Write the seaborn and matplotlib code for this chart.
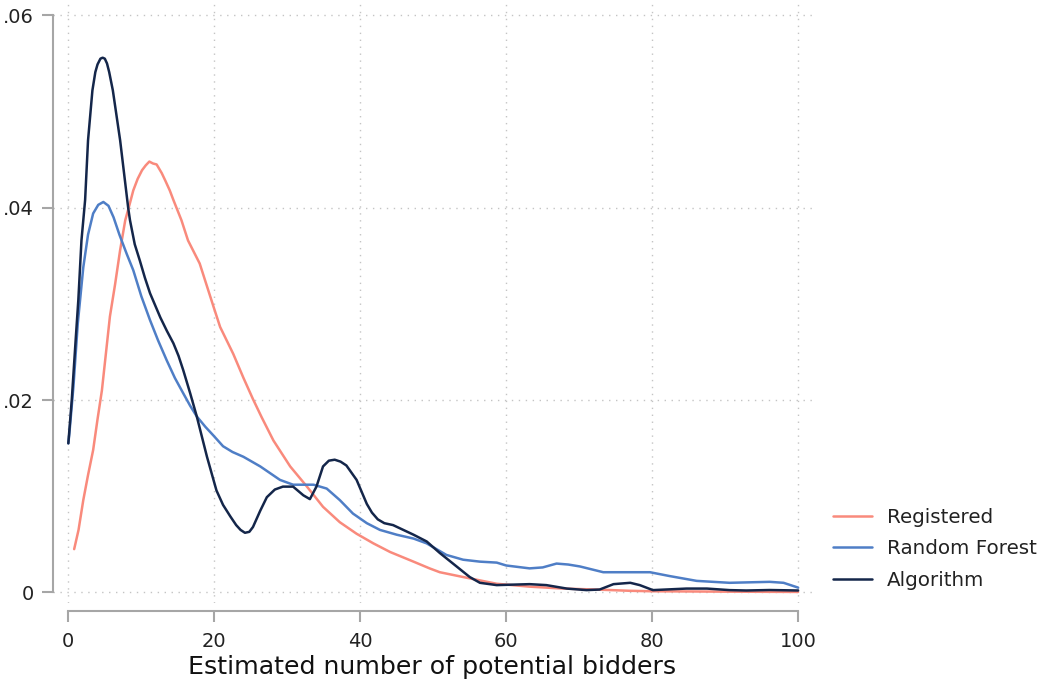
import numpy as np
import pandas as pd
import matplotlib
matplotlib.use("Agg")
import matplotlib.pyplot as plt
import seaborn as sns

# Density estimates of the number of potential bidders
alg_x = [0, 0.47, 1.0, 1.37, 1.8, 2.3, 2.7, 3.3, 3.7, 4.0, 4.4, 4.7, 5.0, 5.3, 5.6, 6.1,
         7.1, 8.2, 8.45, 9.1, 9.8, 10.5, 11.2, 12.6, 13.5, 14.4, 15.1, 15.75, 16.7, 17.6,
         19.0, 20.3, 21.2, 22.2, 23.0, 23.6, 24.2, 24.8, 25.3, 26.3, 27.2, 28.3, 29.4,
         30.8, 32.2, 33.1, 34.0, 34.9, 35.7, 36.5, 37.3, 38.1, 39.5, 40.9, 41.6, 42.4,
         43.3, 44.5, 47.3, 49.1, 50.9, 53.2, 55.0, 56.4, 58.7, 63.2, 65.5, 68.3, 71.0,
         72.8, 74.7, 77.0, 78.3, 80.1, 84.7, 87.5, 90.6, 92.9, 96.1, 100]
alg_y = [0.0155, 0.0200, 0.0262, 0.0304, 0.0366, 0.0408, 0.0470, 0.0522, 0.0541, 0.0549,
         0.0555, 0.0556, 0.0555, 0.0550, 0.0541, 0.0522, 0.0470, 0.0400, 0.0387, 0.0362,
         0.0345, 0.0327, 0.0311, 0.0286, 0.0272, 0.0259, 0.0246, 0.0231, 0.0207, 0.0183,
         0.0141, 0.0106, 0.0091, 0.0079, 0.0070, 0.0065, 0.0062, 0.0063, 0.0068, 0.0085,
         0.0099, 0.0107, 0.0110, 0.0110, 0.0101, 0.0097, 0.0110, 0.0131, 0.0137, 0.0138,
         0.0136, 0.0132, 0.0117, 0.0092, 0.0083, 0.0076, 0.0072, 0.0070, 0.0060, 0.0053,
         0.0041, 0.0027, 0.0016, 0.0010, 0.00076, 0.00086, 0.00076, 0.0004, 0.00024,
         0.0003, 0.00086, 0.0010, 0.00076, 0.00024, 0.0004, 0.0004, 0.00024, 0.0002,
         0.00025, 0.0002]

rf_x = [0, 0.14, 0.7, 1.3, 2.05, 2.7, 3.4, 4.1, 4.8, 5.5, 6.2, 7.0, 8.0, 8.9, 10.0, 11.2,
        12.3, 13.5, 14.6, 15.75, 16.7, 17.6, 18.8, 19.9, 21.2, 22.5, 24.0, 26.3, 29.0,
        30.8, 33.6, 35.4, 37.2, 39.0, 40.9, 42.7, 45.0, 47.3, 49.1, 50.9, 51.8, 54.1,
        56.4, 58.7, 60.0, 63.2, 65.0, 66.9, 68.5, 70.1, 73.3, 76.0, 79.7, 82.4, 86.1,
        90.6, 96.1, 98.0, 100]
rf_y = [0.0155, 0.0165, 0.0214, 0.0280, 0.0338, 0.0372, 0.0394, 0.0403, 0.0406, 0.0402,
        0.0390, 0.0372, 0.0352, 0.0335, 0.0308, 0.0283, 0.0262, 0.0241, 0.0223, 0.0207,
        0.0194, 0.0183, 0.0172, 0.0163, 0.0152, 0.0146, 0.0141, 0.0131, 0.0117, 0.0112,
        0.0112, 0.0108, 0.0096, 0.0082, 0.0072, 0.0065, 0.0060, 0.0056, 0.0051, 0.0043,
        0.0039, 0.0034, 0.0032, 0.0031, 0.0028, 0.0025, 0.0026, 0.0030, 0.0029, 0.0027,
        0.0021, 0.0021, 0.0021, 0.0017, 0.0012, 0.0010, 0.0011, 0.0010, 0.0005]

reg_x = [0.8, 1.4, 2.05, 2.7, 3.4, 4.0, 4.6, 5.7, 6.4, 7.1, 7.8, 8.45, 8.9, 9.5, 10.1,
         10.6, 11.1, 11.6, 12.1, 12.8, 13.3, 13.9, 14.4, 15.5, 16.4, 18.0, 19.9, 20.8,
         22.6, 24.0, 25.3, 26.5, 28.1, 30.4, 32.7, 34.9, 37.2, 39.5, 41.8, 44.1, 47.3,
         49.5, 50.9, 54.1, 58.7, 63.2, 67.8, 72.3, 76.9, 80, 90, 100]
reg_y = [0.0045, 0.0065, 0.0096, 0.0122, 0.0148, 0.0180, 0.0210, 0.0287, 0.0320, 0.0356,
         0.0387, 0.0405, 0.0418, 0.0430, 0.0439, 0.0444, 0.0448, 0.0446, 0.0445, 0.0436,
         0.0428, 0.0418, 0.0408, 0.0387, 0.0366, 0.0342, 0.0297, 0.0276, 0.0248, 0.0223,
         0.0201, 0.0182, 0.0158, 0.0131, 0.0110, 0.0089, 0.0073, 0.0061, 0.0051, 0.0042,
         0.0032, 0.0025, 0.0021, 0.0016, 0.0009, 0.0006, 0.0004, 0.0003, 0.00017,
         0.00012, 0.00008, 0.00005]

series = ["Registered", "Random Forest", "Algorithm"]
colors = ["#F98A7C", "#4F7EC6", "#14264A"]

x_ticks = [0, 20, 40, 60, 80, 100]
y_ticks = [0, 0.02, 0.04, 0.06]
y_tick_labels = ["0", ".02", ".04", ".06"]
x_label = "Estimated number of potential bidders"

df = pd.concat([
    pd.DataFrame({"x": reg_x, "density": reg_y, "series": series[0]}),
    pd.DataFrame({"x": rf_x, "density": rf_y, "series": series[1]}),
    pd.DataFrame({"x": alg_x, "density": alg_y, "series": series[2]}),
], ignore_index=True)

sns.set_theme(style="white")
plt.rcParams["font.family"] = ["DejaVu Sans"]

fig = plt.figure(figsize=(10.43, 6.87), dpi=100)
ax = fig.add_axes([53 / 1043, 1 - 603 / 687, (812 - 53) / 1043, 603 / 687])

sns.lineplot(data=df, x="x", y="density", hue="series", hue_order=series,
             palette=colors, estimator=None, sort=False, linewidth=1.8, ax=ax,
             legend=False)
for line in ax.get_lines():
    line.set_solid_joinstyle("round")

ax.set_xlim(-2.1, 101.9)
ax.set_ylim(-0.0011, 0.0616)

grid_kw = dict(color="#c4c4c4", linewidth=1.0, linestyle=(0, (1, 4)), zorder=0)
for xv in x_ticks:
    ax.axvline(xv, **grid_kw)
for yv in y_ticks:
    ax.axhline(yv, **grid_kw)

spine_color = "#a6a6a6"
for side in ["top", "right"]:
    ax.spines[side].set_visible(False)
ax.spines["left"].set_color(spine_color)
ax.spines["bottom"].set_color(spine_color)
ax.spines["left"].set_linewidth(1.5)
ax.spines["bottom"].set_linewidth(1.5)
ax.spines["left"].set_bounds(0, 0.06)
ax.spines["bottom"].set_bounds(0, 100)
ax.spines["bottom"].set_position(("outward", 6))

ax.set_xticks(x_ticks)
ax.set_xticklabels([str(v) for v in x_ticks])
ax.set_yticks(y_ticks)
ax.set_yticklabels(y_tick_labels)
ax.tick_params(axis="both", which="major", direction="out", length=8, width=1.5,
               color=spine_color, labelsize=14, labelcolor="#222222", pad=6)
ax.tick_params(axis="x", length=8, pad=7)
ax.tick_params(left=True, bottom=True)

ax.set_xlabel(x_label, fontsize=18.2, color="#111111", labelpad=3)
ax.set_ylabel("")

handles = [plt.Line2D([], [], color=c, linewidth=1.8) for c in colors]
fig.legend(handles, series, loc="upper left",
           bbox_to_anchor=(833 / 1043, 1 - 508 / 687), frameon=False,
           fontsize=14.3, handlelength=1.95, handletextpad=0.75, labelspacing=0.62,
           borderpad=0, borderaxespad=0, labelcolor="#222222")

fig.savefig("out.png", dpi=100, facecolor="white")
